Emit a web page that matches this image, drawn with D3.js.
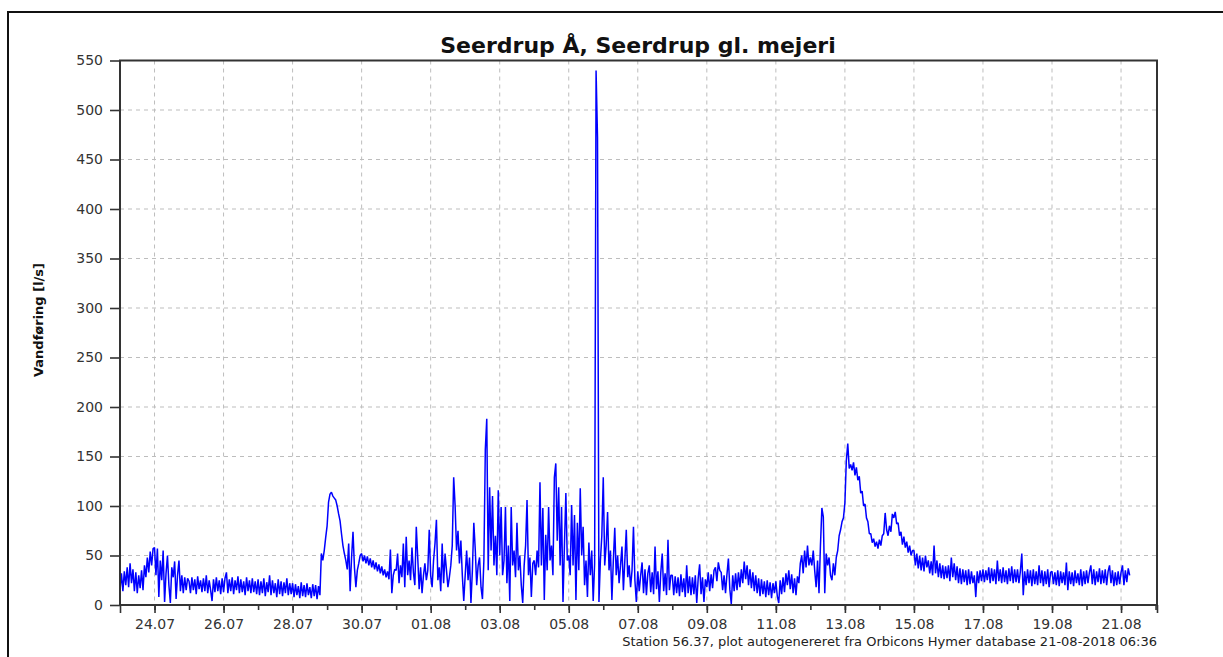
<!DOCTYPE html>
<html>
<head>
<meta charset="utf-8">
<script src="https://cdn.jsdelivr.net/npm/d3@7"></script>
<style>
body { margin: 0; background: #fff; }
text { font-family: "DejaVu Sans", Verdana, sans-serif; }
</style>
</head>
<body>
<script>
var title = "Seerdrup Å, Seerdrup gl. mejeri";
var yLabel = "Vandføring [l/s]";
var footer = "Station 56.37, plot autogenereret fra Orbicons Hymer database 21-08-2018 06:36";

// hourly flow values (l/s), first value at 23.07.2018 00:00, one line per day
var week1 = [
  15, 32, 14, 34, 20, 38, 18, 42, 22, 36, 14, 33, 12, 30, 17, 35, 15, 40, 28, 48, 33, 54, 40, 57,
  58, 30, 57, 8, 45, 25, 55, 3, 32, 50, 20, 2, 38, 28, 44, 6, 30, 45, 14, 30, 12, 28, 15, 27,
  24, 12, 28, 15, 26, 11, 29, 16, 25, 13, 27, 14, 30, 12, 25, 15, 4, 26, 13, 28, 14, 25, 11, 27,
  13, 27, 33, 12, 26, 14, 28, 11, 25, 15, 29, 12, 26, 13, 24, 10, 28, 14, 25, 12, 27, 13, 24, 11,
  26, 10, 24, 12, 27, 9, 23, 13, 30, 10, 25, 12, 22, 8, 26, 11, 24, 9, 23, 12, 27, 10, 22, 11,
  22, 8, 21, 10, 19, 7, 23, 9, 20, 8, 22, 10, 18, 7, 21, 9, 20, 6, 19, 10, 52, 45, 55, 68,
  80, 104, 112, 114, 110, 108, 106, 100, 92, 85, 72, 60, 52, 45, 36, 62, 14, 48, 74, 38, 18, 35, 42, 50
];
var week2 = [
  52, 44, 50, 42, 49, 40, 47, 38, 45, 36, 43, 34, 41, 32, 39, 30, 36, 28, 34, 26, 56, 12, 30, 36,
  35, 52, 22, 40, 28, 62, 18, 69, 30, 45, 25, 58, 33, 20, 79, 48, 16, 38, 12, 30, 42, 25, 35, 76,
  30, 18, 45, 62, 86, 25, 38, 14, 62, 22, 52, 35, 18, 28, 40, 60, 129, 100, 55, 75, 42, 65, 30, 4,
  30, 55, 25, 48, 2, 35, 83, 56, 20, 40, 48, 18, 6, 45, 157, 188, 35, 119, 55, 110, 40, 70, 30, 116,
  50, 99, 30, 45, 99, 22, 60, 4, 99, 40, 55, 28, 83, 35, 50, 20, 2, 40, 60, 106, 30, 48, 8, 42,
  45, 30, 55, 38, 124, 40, 98, 5, 71, 35, 99, 45, 60, 30, 129, 143, 65, 119, 40, 99, 3, 60, 113, 45,
  50, 30, 101, 40, 91, 5, 83, 35, 118, 50, 79, 20, 45, 8, 63, 30, 55, 4, 42, 540, 472, 3, 45, 70
];
var week3 = [
  129, 40, 60, 94, 35, 55, 5, 45, 78, 30, 50, 22, 40, 59, 15, 45, 76, 28, 40, 18, 35, 79, 25, 3,
  34, 14, 30, 43, 12, 36, 10, 32, 40, 13, 33, 11, 59, 16, 34, 3, 33, 52, 14, 32, 10, 66, 15, 30,
  30, 10, 29, 12, 28, 9, 31, 13, 27, 8, 40, 12, 29, 10, 28, 11, 30, 2, 27, 41, 11, 28, 3, 26,
  18, 33, 14, 31, 17, 35, 38, 24, 43, 35, 33, 15, 30, 12, 31, 47, 16, 1, 30, 14, 32, 15, 33, 18,
  36, 22, 44, 26, 40, 20, 36, 17, 33, 14, 30, 12, 27, 9, 26, 11, 24, 8, 25, 10, 23, 7, 22, 12,
  24, 9, 2, 25, 11, 28, 13, 32, 20, 35, 16, 31, 12, 27, 10, 29, 22, 42, 50, 32, 55, 38, 60, 40,
  48, 40, 55, 35, 18, 45, 12, 60, 98, 89, 12, 52, 40, 48, 30, 25, 42, 30, 48, 55, 70, 76, 84, 88
];
var week4 = [
  103, 146, 163, 138, 142, 136, 144, 131, 139, 126, 130, 113, 115, 100, 102, 88, 84, 72, 72, 63, 67, 59, 64, 57,
  66, 60, 70, 72, 93, 76, 70, 80, 74, 92, 88, 94, 82, 83, 70, 74, 61, 69, 58, 64, 53, 60, 50, 55,
  55, 40, 52, 37, 50, 35, 48, 34, 50, 38, 45, 32, 44, 30, 60, 32, 45, 28, 42, 27, 40, 26, 39, 27,
  40, 24, 48, 28, 42, 25, 39, 22, 37, 21, 36, 23, 35, 20, 36, 21, 34, 22, 30, 8, 34, 22, 35, 24,
  36, 23, 35, 25, 38, 22, 37, 24, 36, 21, 45, 24, 36, 22, 38, 23, 35, 21, 37, 24, 39, 22, 36, 23,
  36, 22, 34, 52, 10, 34, 20, 36, 22, 35, 19, 36, 21, 34, 20, 40, 22, 35, 19, 34, 21, 36, 18, 33,
  34, 21, 33, 20, 35, 19, 34, 22, 33, 20, 43, 15, 34, 21, 33, 19, 35, 22, 32, 20, 36, 19, 34, 21
];
var week5 = [
  35, 22, 33, 40, 21, 36, 20, 34, 23, 37, 21, 35, 22, 36, 20, 34, 40, 22, 35, 19, 33, 20, 34, 21,
  33, 40, 20, 35, 23, 37, 30
];

var xTickLabels = ["24.07", "26.07", "28.07", "30.07", "01.08", "03.08", "05.08", "07.08",
                   "09.08", "11.08", "13.08", "15.08", "17.08", "19.08", "21.08"];
var yTicks = [0, 50, 100, 150, 200, 250, 300, 350, 400, 450, 500, 550];

var startTime = Date.UTC(2018, 6, 23, 0, 0);
var endTime = Date.UTC(2018, 7, 22, 1, 0);
var hour = 3600 * 1000;

var flow = week1.concat(week2, week3, week4, week5);
var data = flow.map(function (v, i) { return {t: new Date(startTime + i * hour), v: v}; });

var parseDay = d3.utcParse("%d.%m.%Y");
var majorDates = xTickLabels.map(function (s) { return parseDay(s + ".2018"); });
var minorDates = d3.utcDay.range(new Date(startTime + 1), new Date(endTime));

var W = 1223, H = 657;
var pLeft = 120, pRight = 1157, pTop = 60.5, pBottom = 605;

var svg = d3.select("body").append("svg").attr("width", W).attr("height", H);

// outer frame (runs off the right and bottom edges)
svg.append("rect").attr("x", 8).attr("y", 12).attr("width", 1240).attr("height", 700)
   .attr("fill", "none").attr("stroke", "#111").attr("stroke-width", 2);

var x = d3.scaleUtc().domain([startTime, endTime]).range([pLeft, pRight]);
var y = d3.scaleLinear().domain([0, 550]).range([pBottom, pTop]);

// dashed grid
svg.append("g").selectAll("line").data(yTicks.slice(1, -1)).enter().append("line")
   .attr("x1", pLeft).attr("x2", pRight)
   .attr("y1", function (d) { return y(d); }).attr("y2", function (d) { return y(d); })
   .attr("stroke", "#bdbdbd").attr("stroke-dasharray", "4,4");
svg.append("g").selectAll("line").data(majorDates).enter().append("line")
   .attr("x1", function (d) { return x(d); }).attr("x2", function (d) { return x(d); })
   .attr("y1", pTop).attr("y2", pBottom)
   .attr("stroke", "#bdbdbd").attr("stroke-dasharray", "4,4");

// series
svg.append("clipPath").attr("id", "plot").append("rect")
   .attr("x", pLeft).attr("y", pTop).attr("width", pRight - pLeft).attr("height", pBottom - pTop);
svg.append("path").datum(data)
   .attr("clip-path", "url(#plot)")
   .attr("fill", "none").attr("stroke", "#0000ff").attr("stroke-width", 1.5)
   .attr("stroke-linejoin", "bevel")
   .attr("d", d3.line().x(function (d) { return x(d.t); }).y(function (d) { return y(d.v); }));

// plot box
svg.append("rect").attr("x", pLeft).attr("y", pTop).attr("width", pRight - pLeft).attr("height", pBottom - pTop)
   .attr("fill", "none").attr("stroke", "#333").attr("stroke-width", 2);

// axes
var xMinor = svg.append("g").attr("transform", "translate(0," + pBottom + ")")
   .call(d3.axisBottom(x).tickValues(minorDates).tickSize(5).tickFormat(""));
xMinor.select(".domain").remove();

var xMajor = svg.append("g").attr("transform", "translate(0," + pBottom + ")")
   .call(d3.axisBottom(x).tickValues(majorDates.concat([new Date(startTime), new Date(endTime)]))
         .tickSize(8).tickPadding(6)
         .tickFormat(function (d) { return (+d === startTime || +d === endTime) ? "" : d3.utcFormat("%d.%m")(d); }));
xMajor.select(".domain").remove();

var yAxis = svg.append("g").attr("transform", "translate(" + pLeft + ",0)")
   .call(d3.axisLeft(y).tickValues(yTicks).tickSize(10).tickPadding(7));
yAxis.select(".domain").remove();

svg.selectAll(".tick line").attr("stroke", "#333").attr("stroke-width", 1.6);
svg.selectAll(".tick text").attr("fill", "#333").style("font-size", "14px")
   .style("font-family", "'DejaVu Sans', Verdana, sans-serif");

// title and labels
svg.append("text").attr("x", 638).attr("y", 53).attr("text-anchor", "middle")
   .style("font-size", "22px").style("font-weight", "bold").attr("fill", "#111").text(title);

svg.append("text").attr("transform", "translate(43,320) rotate(-90)").attr("text-anchor", "middle")
   .style("font-size", "13px").style("font-weight", "bold").attr("fill", "#111").text(yLabel);

svg.append("text").attr("x", pRight).attr("y", 646).attr("text-anchor", "end")
   .style("font-size", "13px").attr("fill", "#222").text(footer);
</script>
</body>
</html>
